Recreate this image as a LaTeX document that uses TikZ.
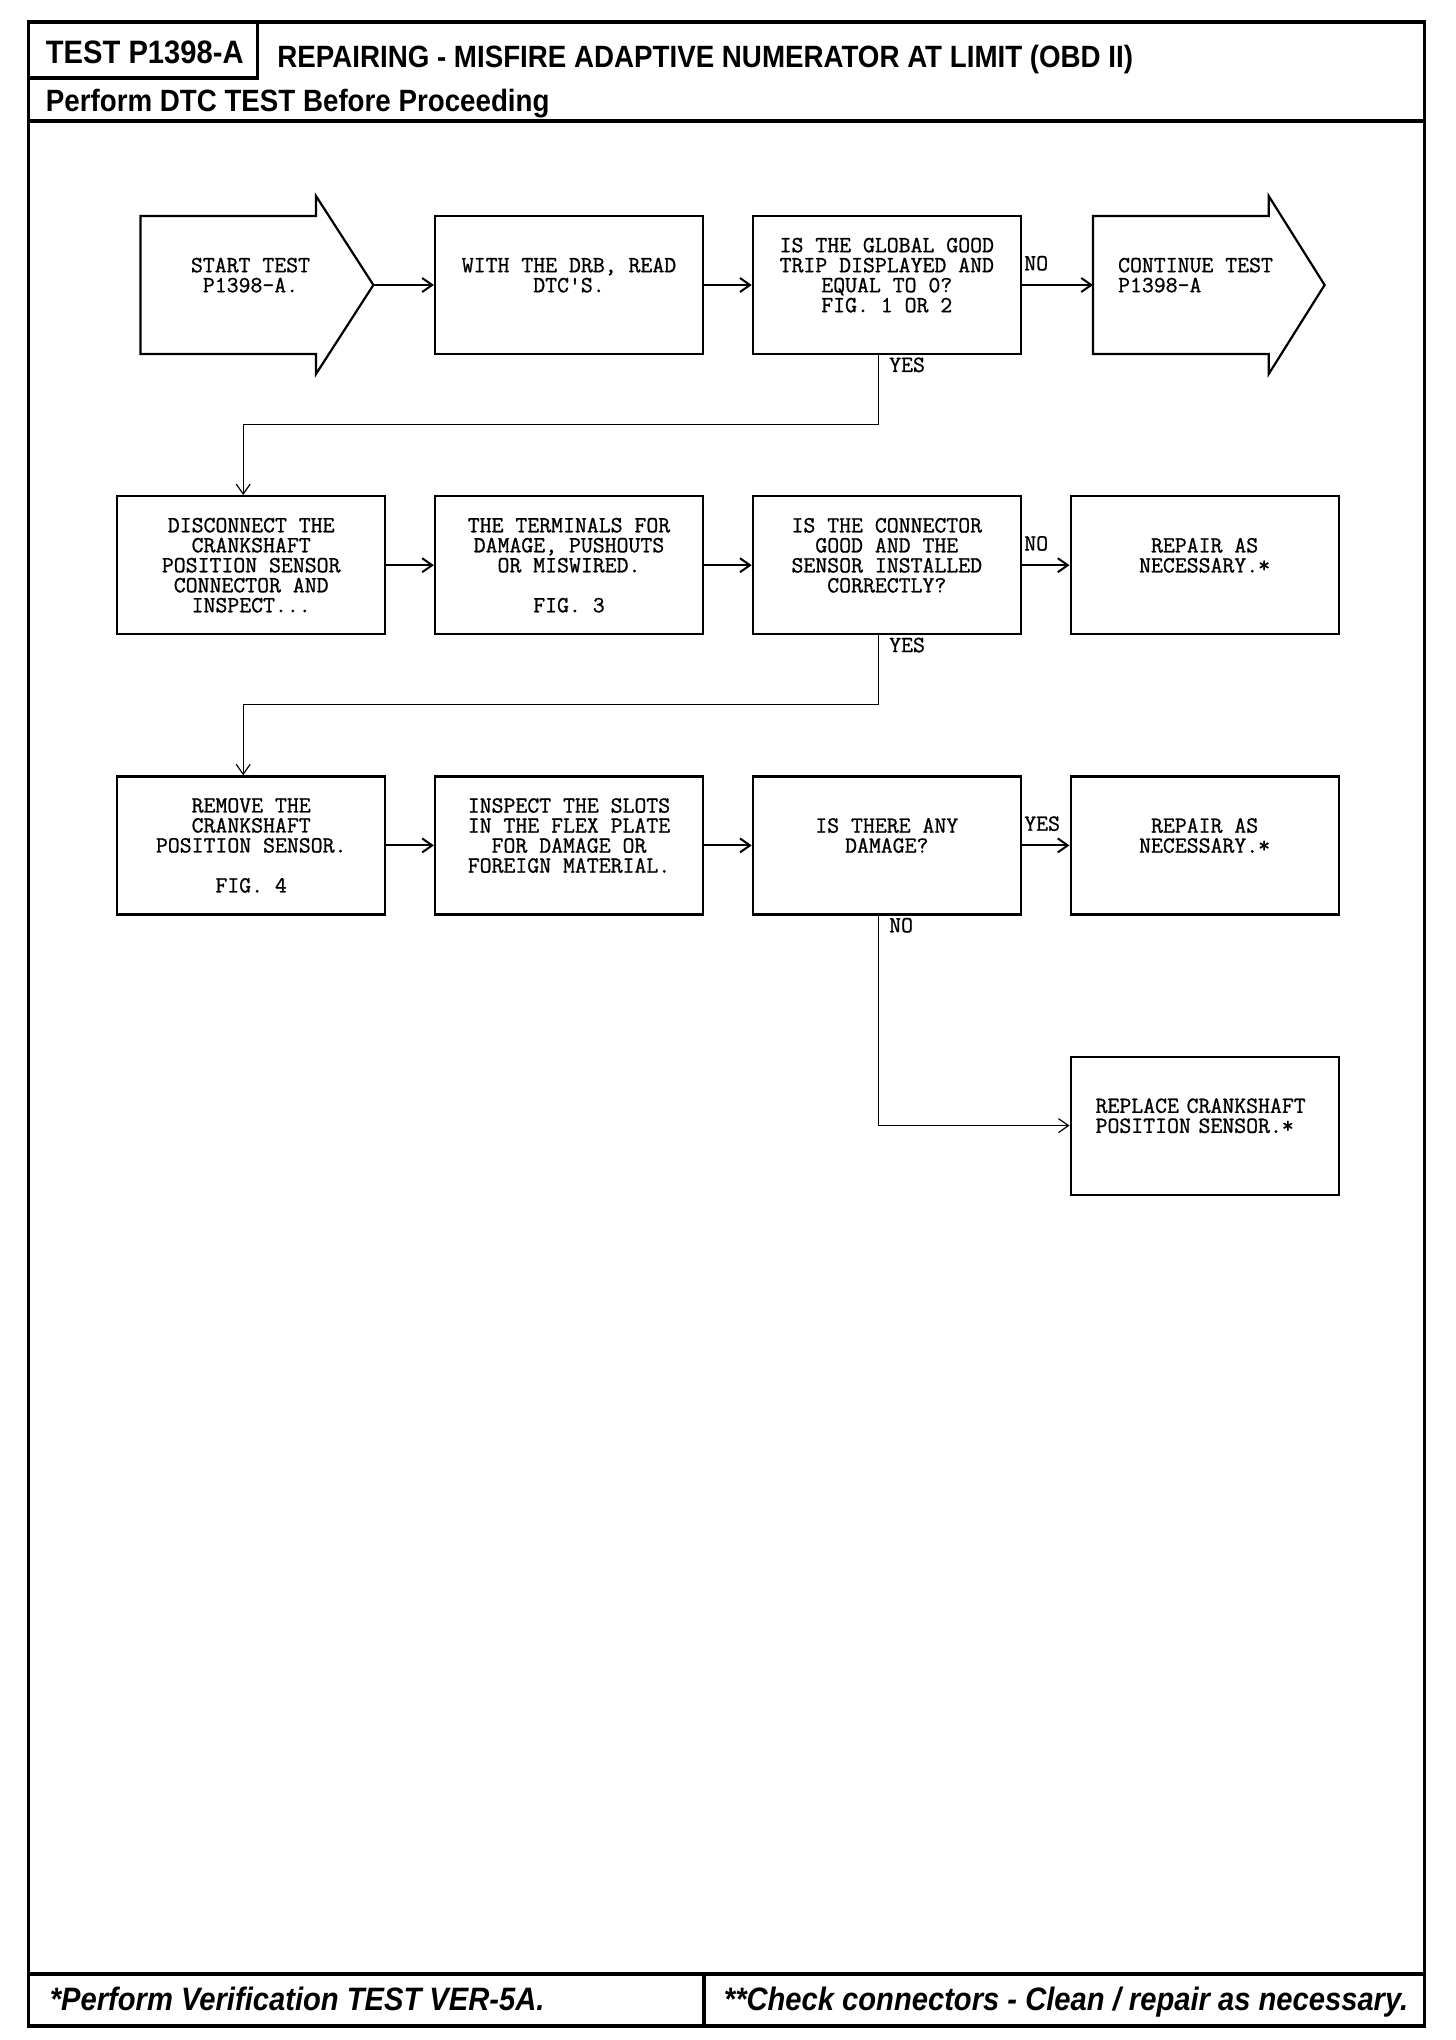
\documentclass[tikz,border=0pt]{standalone}
\usepackage{fontspec}
\usepackage{tikz}
\usetikzlibrary{
	arrows.meta,
	positioning,
	calc
}
\newfontfamily\monofont[FakeBold=1]{Latin Modern Mono}
\newfontfamily\headfont[FakeStretch=0.9]{Liberation Sans}

\begin{document}
\begin{tikzpicture}[
            x=0.5pt, y=0.5pt,
            node distance=70pt and 23.8pt,
            box/.style={
                draw,
                line width=1.1pt,
                minimum width=134pt,
                minimum height=69pt,
                inner sep=0pt,
                align=center,
                font=\monofont\fontsize{11.56}{10}\selectfont
            },
            leftbox/.style={box,align=left,text width=109pt},
            plain/.style={inner sep=0pt,font=\monofont\fontsize{11.56}{10}\selectfont},
            tag/.style={inner sep=1pt,font=\monofont\fontsize{11.56}{10}\selectfont},
            outline/.style={line width=1.1pt,line join=miter},
            head/.style={inner sep=0pt,anchor=base west,
                font=\headfont\bfseries\fontsize{15.4}{16}\selectfont},
            foot/.style={inner sep=0pt,anchor=base west,
                font=\headfont\bfseries\itshape\fontsize{16.2}{17}\selectfont},
            frame/.style={line width=1.6pt},
            arr/.style={-{Straight Barb[length=5pt,width=7pt]},line width=1pt},
            link/.style={-{Straight Barb[length=5pt,width=7pt]},line width=0.6pt}
        ]
            \useasboundingbox (0,0) rectangle (1456,-2040);

            % page frame
            \draw[frame] (28.6,-22) rectangle (1424.8,-2026);
            \draw[frame] (257.6,-22) -- (257.6,-78) -- (28.6,-78);
            \draw[line width=2.2pt] (28.6,-121) -- (1424.8,-121);
            \draw[line width=2.2pt] (28.6,-1974) -- (1424.8,-1974);
            \draw[frame] (704,-1974) -- (704,-2026);

            \node[head,font=\headfont\bfseries\fontsize{16.2}{17}\selectfont] (testid) at (45.5,-63.6) {TEST P1398-A};
            \node[head] (title) at (277,-67) {REPAIRING - MISFIRE ADAPTIVE NUMERATOR AT LIMIT (OBD II)};
            \node[head] (dtc) at (45.5,-111) {Perform DTC TEST Before Proceeding};
            \node[foot] (verify) at (49.4,-2010.6) {*Perform Verification TEST VER-5A.};
            \node[foot] (clean) at (723.5,-2010.6) {**Check connectors - Clean / repair as necessary.};

            % first row
            \node[plain,align=center] (start) at (250.5,-285) {START TEST\\P1398-A.\\\mbox{}};
            \draw[outline] (140.5,-216) -- (316,-216) -- (316,-196) -- (373.4,-285)
                -- (316,-374) -- (316,-354) -- (140.5,-354) -- cycle;
            \coordinate (starttip) at (373.4,-285);

            \node[box] (read) at (569,-285) {WITH THE DRB, READ\\DTC'S.\\\mbox{}};
            \node[box,right=of read] (trip)
            {IS THE GLOBAL GOOD\\TRIP DISPLAYED AND\\EQUAL TO 0?\\FIG. 1 OR 2\\\mbox{}};

            \node[plain,align=left,anchor=west] (cont) at (1117.7,-285) {CONTINUE TEST\\P1398-A\\\mbox{}};
            \draw[outline] (1093,-216) -- (1268.7,-216) -- (1268.7,-196) -- (1324.6,-285)
                -- (1268.7,-374) -- (1268.7,-354) -- (1093,-354) -- cycle;
            \coordinate (conttail) at (1093,-285);

            % second row
            \node[box,below=of read] (term)
            {THE TERMINALS FOR\\DAMAGE, PUSHOUTS\\OR MISWIRED.\\\mbox{}\\FIG. 3};
            \node[box,left=of term] (disc)
            {DISCONNECT THE\\CRANKSHAFT\\POSITION SENSOR\\CONNECTOR AND\\INSPECT...};
            \node[box,right=of term] (conn)
            {IS THE CONNECTOR\\GOOD AND THE\\SENSOR INSTALLED\\CORRECTLY?\\\mbox{}};
            \node[box,right=of conn] (fix1) {REPAIR AS\\NECESSARY.*\\\mbox{}};

            % third row
            \node[box,below=of term] (slots)
            {INSPECT THE SLOTS\\IN THE FLEX PLATE\\FOR DAMAGE OR\\FOREIGN MATERIAL.\\\mbox{}};
            \node[box,left=of slots] (remove)
            {REMOVE THE\\CRANKSHAFT\\POSITION SENSOR.\\\mbox{}\\FIG. 4};
            \node[box,right=of slots] (dmg) {IS THERE ANY\\DAMAGE?\\\mbox{}};
            \node[box,right=of dmg] (fix2) {REPAIR AS\\NECESSARY.*\\\mbox{}};

            \node[leftbox,below=of fix2] (replace) {REPLACE CRANKSHAFT\\POSITION SENSOR.*\\\mbox{}};

            % answers
            \node[tag,anchor=south west] (no1) at ([yshift=6pt]trip.east) {NO};
            \node[tag,anchor=north west] (yes1) at (trip.south) {YES};
            \node[tag,anchor=south west] (no2) at ([yshift=6pt]conn.east) {NO};
            \node[tag,anchor=north west] (yes2) at (conn.south) {YES};
            \node[tag,anchor=south west] (yes3) at ([yshift=6pt]dmg.east) {YES};
            \node[tag,anchor=north west] (no3) at (dmg.south) {NO};

            \draw[arr] (starttip) -- (read);
            \draw[arr] (read) -- (trip);
            \draw[arr] (trip) -- (conttail);
            \draw[link] ([xshift=-4pt]trip.south) -- ++(0,-34.5pt) -| ([xshift=-4pt]disc.north);
            \draw[arr] (disc) -- (term);
            \draw[arr] (term) -- (conn);
            \draw[arr] (conn) -- (fix1);
            \draw[link] ([xshift=-4pt]conn.south) -- ++(0,-34.5pt) -| ([xshift=-4pt]remove.north);
            \draw[arr] (remove) -- (slots);
            \draw[arr] (slots) -- (dmg);
            \draw[arr] (dmg) -- (fix2);
            \draw[link] ([xshift=-4pt]dmg.south) |- (replace);
        \end{tikzpicture}
\end{document}
